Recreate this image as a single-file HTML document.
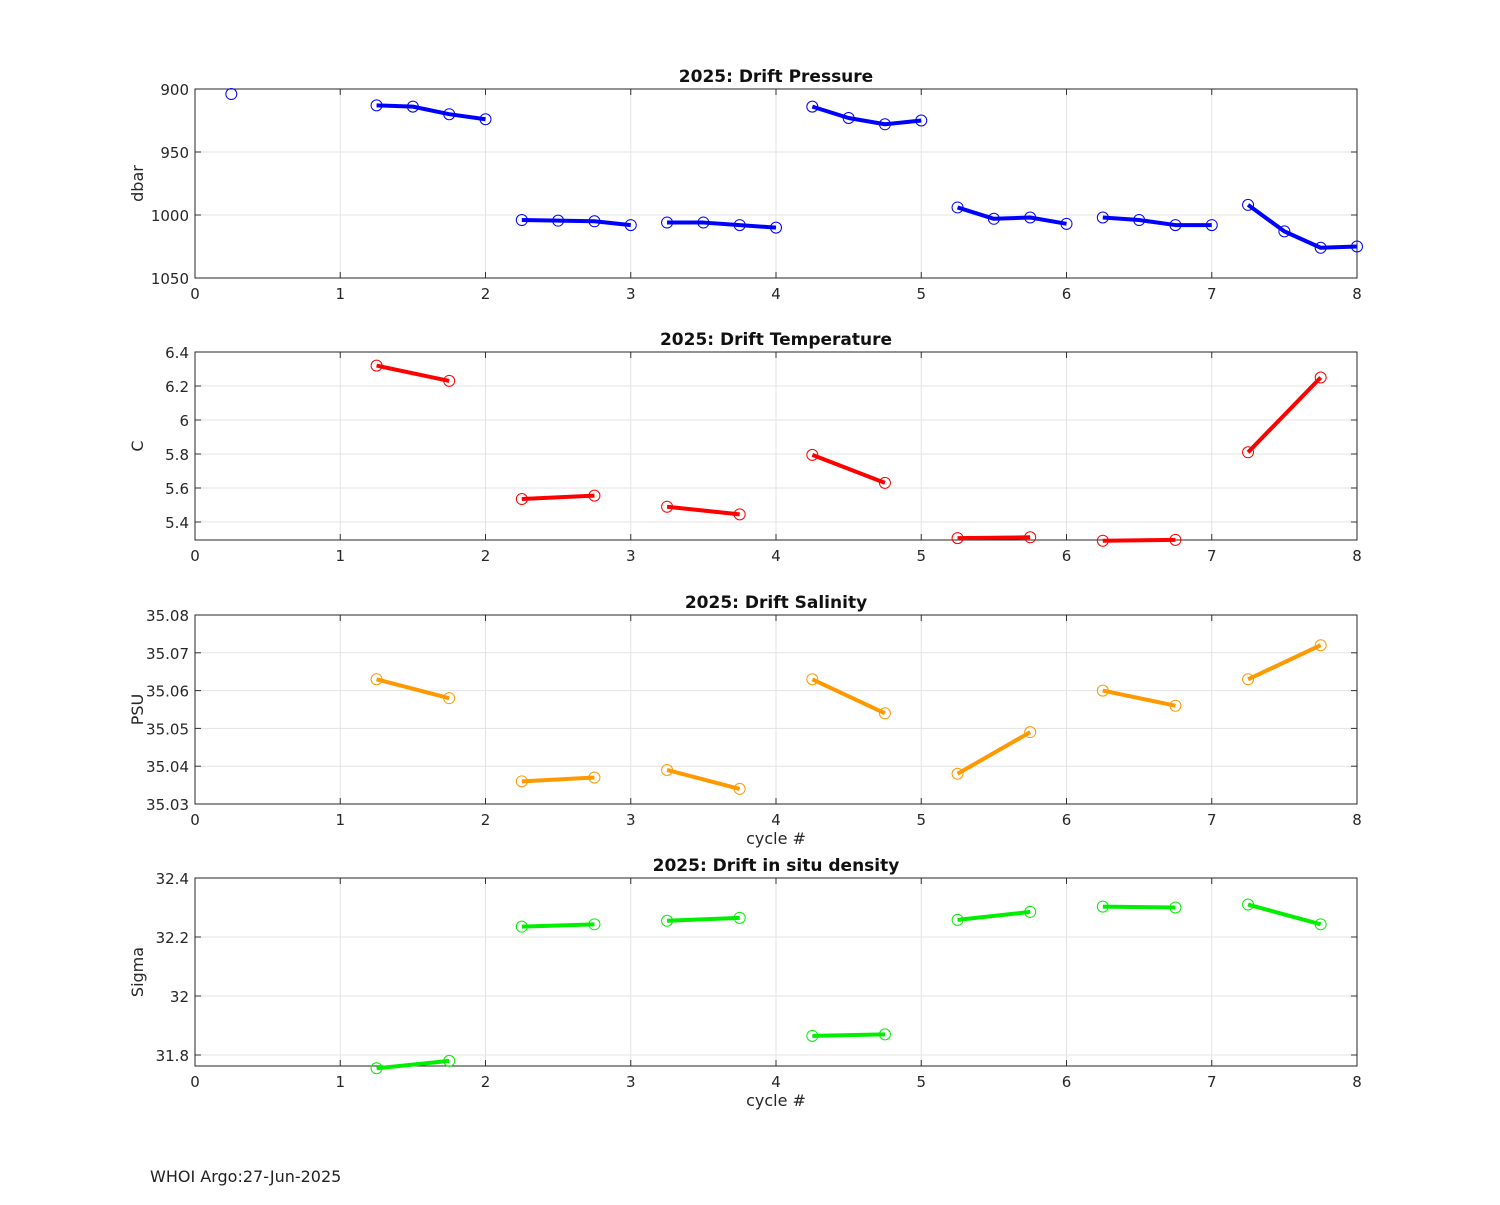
<!DOCTYPE html>
<html><head><meta charset="utf-8"><style>
body{margin:0;background:#fff}
svg{font-family:"DejaVu Sans","Liberation Sans",sans-serif}
</style></head><body>
<svg id="c" width="1500" height="1200">
<text x="150" y="1182" font-size="16" fill="#222">WHOI Argo:27-Jun-2025</text>
</svg>
<script>
const cycles=[0.25,null,1.25,1.5,1.75,2,null,2.25,2.5,2.75,3,null,3.25,3.5,3.75,4,null,4.25,4.5,4.75,5,null,5.25,5.5,5.75,6,null,6.25,6.5,6.75,7,null,7.25,7.5,7.75,8];
const pressure=[904,null,913,914,920,924,null,1004,1004.5,1005,1008,null,1006,1006,1008,1010,null,914,923,928,925,null,994,1003,1002,1007,null,1002,1004,1008,1008,null,992,1013,1026,1025];
const cyclesHalf=[1.25,1.75,null,2.25,2.75,null,3.25,3.75,null,4.25,4.75,null,5.25,5.75,null,6.25,6.75,null,7.25,7.75];
const temperature=[6.32,6.23,null,5.535,5.555,null,5.49,5.445,null,5.795,5.63,null,5.305,5.31,null,5.29,5.295,null,5.81,6.25];
const salinity=[35.063,35.058,null,35.036,35.037,null,35.039,35.034,null,35.063,35.054,null,35.038,35.049,null,35.060,35.056,null,35.063,35.072];
const density=[31.755,31.78,null,32.235,32.243,null,32.255,32.265,null,31.865,31.87,null,32.258,32.285,null,32.303,32.3,null,32.31,32.243];
const xTicks=[0,1,2,3,4,5,6,7,8];
const pTicks=[900,950,1000,1050];
const tTicks=[5.4,5.6,5.8,6,6.2,6.4];
const sTicks=[35.03,35.04,35.05,35.06,35.07,35.08];
const dTicks=[31.8,32,32.2,32.4];

const svg=document.getElementById('c');
const NS='http://www.w3.org/2000/svg';
function mk(t,a,p){const e=document.createElementNS(NS,t);for(const k in a)e.setAttribute(k,a[k]);(p||svg).appendChild(e);return e;}
const X0=195,X1=1357;
const xs=v=>X0+(v-0)/8*(X1-X0);

function panel(o){
  const g=mk('g',{});
  
  
  const ys=v=>o.y0+(v-o.v0)/(o.v1-o.v0)*(o.y1-o.y0);
  const T=o.top,B=o.bot;
  xTicks.forEach(t=>{
    const l=mk('line',{x1:xs(t),x2:xs(t),y1:T,y2:B,stroke:'#e3e3e3','stroke-width':1},g);
    
    mk('line',{x1:xs(t),x2:xs(t),y1:B,y2:B-6,stroke:'#333'},g);
    mk('line',{x1:xs(t),x2:xs(t),y1:T,y2:T+6,stroke:'#333'},g);
    const tx=mk('text',{x:xs(t),y:B+21,'font-size':15,'text-anchor':'middle',fill:'#262626'},g);
    tx.textContent=t;
  });
  o.ticks.forEach(t=>{
    const y=ys(t);
    const l=mk('line',{x1:X0,x2:X1,y1:y,y2:y,stroke:'#e3e3e3'},g);
    
    mk('line',{x1:X0,x2:X0+6,y1:y,y2:y,stroke:'#333'},g);
    mk('line',{x1:X1,x2:X1-6,y1:y,y2:y,stroke:'#333'},g);
    const tx=mk('text',{x:X0-6,y:y+6,'font-size':15,'text-anchor':'end',fill:'#262626'},g);
    tx.textContent=o.fmt(t);
  });
  const fr=mk('rect',{x:X0,y:T,width:X1-X0,height:B-T,fill:'none',stroke:'#262626','stroke-width':1},g);
  
  const tt=mk('text',{x:(X0+X1)/2,y:T-7,'font-size':17,'font-weight':'bold','text-anchor':'middle',fill:'#111'},g);
  tt.textContent=o.title;
  const yl=mk('text',{x:0,y:0,'font-size':16,'text-anchor':'middle',fill:'#262626',transform:`translate(${X0-52},${(T+B)/2}) rotate(-90)`},g);
  yl.textContent=o.ylabel;
  if(o.xlabel){const xl=mk('text',{x:(X0+X1)/2,y:B+40,'font-size':16,'text-anchor':'middle',fill:'#262626'},g);
    xl.textContent=o.xlabel;}
  let seg=[];
  const flush=()=>{if(seg.length>1){const pl=mk('polyline',{points:seg.join(' '),fill:'none',stroke:o.color,'stroke-width':4,'stroke-linejoin':'round'},g);
    }seg=[];};
  o.xv.forEach((x,i)=>{const v=o.yv[i];if(x==null||v==null){flush();return;}seg.push(xs(x)+','+ys(v));});
  flush();
  o.xv.forEach((x,i)=>{const v=o.yv[i];if(x==null||v==null)return;
    const c=mk('circle',{cx:xs(x),cy:ys(v),r:5.5,fill:'none',stroke:o.color,'stroke-width':1},g);
    });
}
panel({name:'pressure-panel',title:'2025: Drift Pressure',ylabel:'dbar',top:89,bot:278,y0:89,y1:278,v0:900,v1:1050,ticks:pTicks,fmt:t=>t,xv:cycles,yv:pressure,color:'#0000ff'});
panel({name:'temperature-panel',title:'2025: Drift Temperature',ylabel:'C',top:352,bot:540,y0:522,y1:352,v0:5.4,v1:6.4,ticks:tTicks,fmt:t=>t,xv:cyclesHalf,yv:temperature,color:'#ff0000'});
panel({name:'salinity-panel',title:'2025: Drift Salinity',ylabel:'PSU',xlabel:'cycle #',top:615,bot:804,y0:804,y1:615,v0:35.03,v1:35.08,ticks:sTicks,fmt:t=>t.toFixed(2),xv:cyclesHalf,yv:salinity,color:'#ff9900'});
panel({name:'density-panel',title:'2025: Drift in situ density',ylabel:'Sigma',xlabel:'cycle #',top:878,bot:1066,y0:1055,y1:878,v0:31.8,v1:32.4,ticks:dTicks,fmt:t=>t,xv:cyclesHalf,yv:density,color:'#00ee00'});
</script>
</body></html>
